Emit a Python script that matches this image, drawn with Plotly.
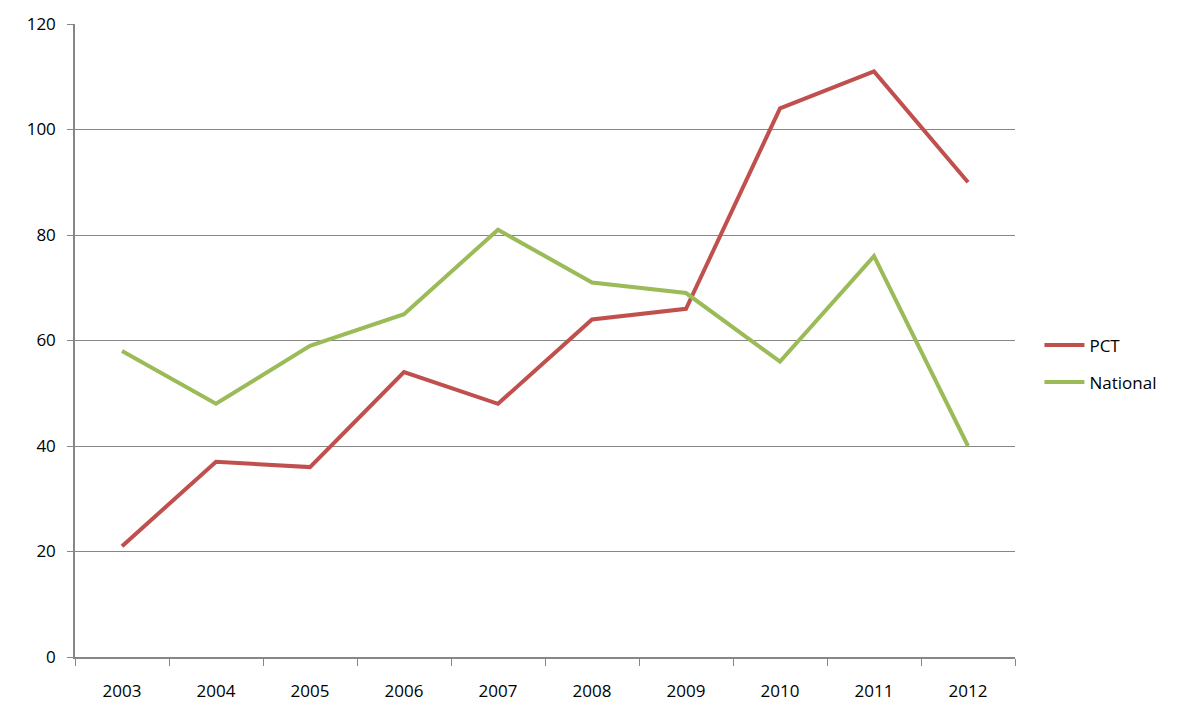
import plotly.graph_objects as go

years = ["2003", "2004", "2005", "2006", "2007", "2008", "2009", "2010", "2011", "2012"]
pct = [21, 37, 36, 54, 48, 64, 66, 104, 111, 90]
national = [58, 48, 59, 65, 81, 71, 69, 56, 76, 40]

fig = go.Figure()

fig.add_trace(go.Scatter(
    x=years, y=pct, name="PCT", mode="lines", legendgroup="a",
    line=dict(color="#C0504D", width=4),
))
fig.add_trace(go.Scatter(
    x=years, y=national, name="National", mode="lines", legendgroup="b",
    line=dict(color="#9BBB59", width=4),
))

fig.update_layout(
    width=1186, height=725,
    margin=dict(l=67, r=179, t=16, b=76),
    plot_bgcolor="white", paper_bgcolor="white",
    font=dict(family="Open Sans, sans-serif", size=17, color="black"),
    legend=dict(x=1.026, y=0.463, xanchor="left", yanchor="middle",
                font=dict(size=17), itemwidth=40, traceorder="grouped",
                tracegroupgap=12),
    xaxis=dict(
        type="category", range=[-0.5, 9.5], tickson="boundaries",
        ticks="outside", ticklen=7, tickcolor="#868686",
        showline=True, linecolor="#868686", linewidth=1.5,
        showgrid=False, zeroline=False, ticklabelstandoff=18,
        automargin=False,
    ),
    yaxis=dict(
        range=[0, 120], dtick=20, ticks="outside", ticklen=6,
        tickcolor="#868686", showline=True, linecolor="#868686", linewidth=1.5,
        showgrid=True, gridcolor="#868686", gridwidth=1, zeroline=False,
        ticklabelstandoff=8, automargin=False,
    ),
)

fig.write_html("out.html")
